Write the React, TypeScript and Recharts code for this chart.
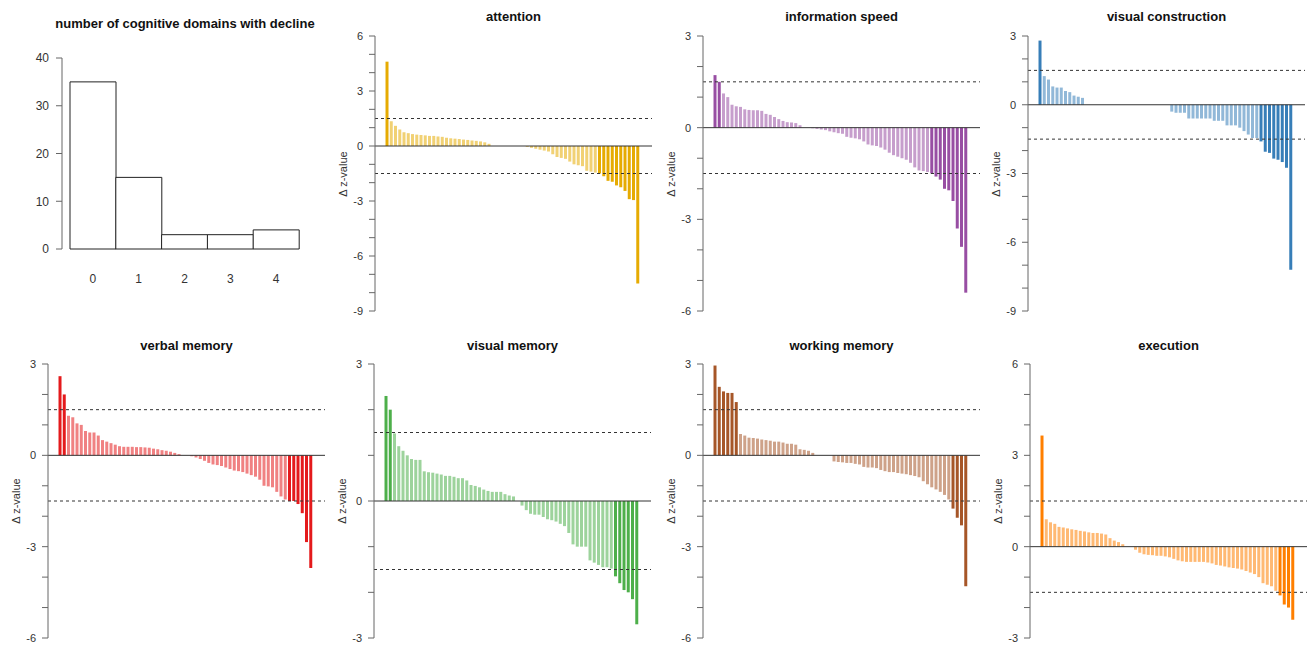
import React from "react";
import { Bar, BarChart, Cell, ReferenceLine, XAxis, YAxis } from "recharts";

// histogram: number of cognitive domains with decline
const declineCounts = ["0", "1", "2", "3", "4"];
const declinePatients = [35, 15, 3, 3, 4];

// change in z-value per patient, sorted high -> low (60 patients)
const attention = [
  4.6, 1.35, 1.1, 0.9, 0.75, 0.7, 0.65, 0.62, 0.6, 0.58, 0.55, 0.55, 0.52, 0.5, 0.45, 0.42, 0.4, 0.38, 0.35, 0.33,
  0.3, 0.28, 0.25, 0.2, 0.12, 0, 0, 0, 0, 0, 0, 0, 0, -0.05, -0.1, -0.15, -0.2, -0.25, -0.3, -0.45,
  -0.6, -0.65, -0.7, -0.85, -1.0, -1.05, -1.1, -1.35, -1.4, -1.45, -1.5, -1.65, -1.9, -1.95, -2.15, -2.25, -2.45, -2.9, -2.95, -7.5,
];
const informationSpeed = [
  1.72, 1.5, 1.12, 1.0, 0.75, 0.7, 0.68, 0.6, 0.58, 0.57, 0.57, 0.55, 0.45, 0.42, 0.35, 0.28, 0.22, 0.18, 0.17, 0.15,
  0.08, 0, 0, -0.02, -0.04, -0.06, -0.08, -0.12, -0.15, -0.18, -0.2, -0.3, -0.33, -0.35, -0.38, -0.45, -0.55, -0.58, -0.6, -0.65,
  -0.72, -0.82, -0.9, -0.95, -1.0, -1.05, -1.15, -1.3, -1.4, -1.42, -1.45, -1.5, -1.6, -1.7, -2.0, -2.05, -2.4, -3.3, -3.9, -5.4,
];
const visualConstruction = [
  2.8, 1.25, 1.1, 0.8, 0.75, 0.75, 0.6, 0.55, 0.4, 0.35, 0.3, 0, 0, 0, 0, 0, 0, 0, 0, 0,
  0, 0, 0, 0, 0, 0, 0, 0, 0, 0, 0, -0.3, -0.35, -0.35, -0.35, -0.6, -0.6, -0.6, -0.6, -0.6,
  -0.6, -0.7, -0.7, -0.7, -0.9, -0.9, -0.9, -1.0, -1.15, -1.3, -1.45, -1.45, -1.6, -2.05, -2.1, -2.35, -2.4, -2.5, -2.75, -7.2,
];
const verbalMemory = [
  2.6, 2.0, 1.3, 1.25, 1.05, 1.0, 0.8, 0.75, 0.75, 0.65, 0.5, 0.45, 0.4, 0.35, 0.3, 0.28, 0.28, 0.28, 0.27, 0.27,
  0.26, 0.25, 0.22, 0.2, 0.17, 0.15, 0.12, 0.08, 0.04, 0, 0, -0.03, -0.07, -0.12, -0.18, -0.25, -0.3, -0.32, -0.35, -0.4,
  -0.45, -0.5, -0.52, -0.55, -0.6, -0.65, -0.7, -0.8, -1.0, -1.02, -1.05, -1.2, -1.35, -1.45, -1.5, -1.5, -1.6, -1.9, -2.85, -3.7,
];
const visualMemory = [
  2.3, 2.0, 1.48, 1.2, 1.1, 1.0, 0.92, 0.9, 0.9, 0.65, 0.63, 0.62, 0.6, 0.58, 0.55, 0.55, 0.53, 0.5, 0.5, 0.45,
  0.35, 0.33, 0.3, 0.25, 0.22, 0.2, 0.2, 0.2, 0.15, 0.12, 0.1, 0, -0.1, -0.2, -0.28, -0.3, -0.3, -0.35, -0.4, -0.42,
  -0.45, -0.5, -0.55, -0.7, -0.95, -1.0, -1.0, -1.0, -1.3, -1.35, -1.4, -1.45, -1.45, -1.48, -1.65, -1.8, -1.95, -2.0, -2.15, -2.7,
];
const workingMemory = [
  2.95, 2.25, 2.1, 2.05, 2.05, 1.75, 0.7, 0.65, 0.58, 0.57, 0.55, 0.52, 0.5, 0.48, 0.45, 0.45, 0.42, 0.38, 0.38, 0.35,
  0.2, 0.18, 0.15, 0.08, 0, 0, 0, 0, -0.2, -0.22, -0.23, -0.25, -0.25, -0.28, -0.3, -0.38, -0.4, -0.4, -0.42, -0.48,
  -0.52, -0.55, -0.55, -0.58, -0.6, -0.62, -0.65, -0.68, -0.72, -0.85, -0.95, -1.05, -1.12, -1.2, -1.3, -1.45, -1.75, -2.05, -2.3, -4.3,
];
const execution = [
  3.65, 0.9, 0.8, 0.75, 0.65, 0.63, 0.6, 0.57, 0.55, 0.52, 0.5, 0.47, 0.45, 0.45, 0.43, 0.4, 0.28, 0.2, 0.15, 0.08,
  0, 0, -0.1, -0.2, -0.25, -0.27, -0.28, -0.3, -0.3, -0.32, -0.35, -0.4, -0.45, -0.48, -0.5, -0.5, -0.5, -0.5, -0.5, -0.52,
  -0.55, -0.6, -0.62, -0.65, -0.68, -0.7, -0.72, -0.75, -0.8, -0.85, -0.9, -1.0, -1.2, -1.25, -1.3, -1.45, -1.6, -1.9, -2.0, -2.4,
];

const CUTOFF = 1.5;
const FONT = '"Liberation Sans", Arial, Helvetica, sans-serif';

const PANELS = [
  { title: "attention", values: attention, color: "#E6AB02", domain: [-9, 6], axisX: 375, plotTop: 36, plotH: 275, titleY: 17 },
  { title: "information speed", values: informationSpeed, color: "#984EA3", domain: [-6, 3], axisX: 703, plotTop: 36, plotH: 275, titleY: 17 },
  { title: "visual construction", values: visualConstruction, color: "#377EB8", domain: [-9, 3], axisX: 1028, plotTop: 36, plotH: 275, titleY: 17 },
  { title: "verbal memory", values: verbalMemory, color: "#E41A1C", domain: [-6, 3], axisX: 48, plotTop: 364, plotH: 274, titleY: 346 },
  { title: "visual memory", values: visualMemory, color: "#4DAF4A", domain: [-3, 3], axisX: 374, plotTop: 364, plotH: 274, titleY: 346 },
  { title: "working memory", values: workingMemory, color: "#A65628", domain: [-6, 3], axisX: 703, plotTop: 364, plotH: 274, titleY: 346 },
  { title: "execution", values: execution, color: "#FF7F00", domain: [-3, 6], axisX: 1030, plotTop: 364, plotH: 274, titleY: 346 },
];

const PLOT_W = 277;
const AXIS_W = 50;
const PAD = 8; // room above/below the plot so edge tick labels are not clipped

function intTicks(lo: number, hi: number) {
  const out: number[] = [];
  for (let t = lo; t <= hi; t++) out.push(t);
  return out;
}

function Title({ text, cx, cy }: { text: string; cx: number; cy: number }) {
  return (
    <div
      style={{
        position: "absolute",
        left: cx - 200,
        top: cy - 9,
        width: 400,
        textAlign: "center",
        fontWeight: "bold",
        fontSize: 13,
        lineHeight: "18px",
        color: "#111",
      }}
    >
      {text}
    </div>
  );
}

function Waterfall(p: (typeof PANELS)[number]) {
  const data = p.values.map((v, i) => ({ i, v }));
  const [lo, hi] = p.domain;
  return (
    <>
      <Title text={p.title} cx={p.axisX + PLOT_W / 2} cy={p.titleY} />
      <div
        style={{
          position: "absolute",
          left: p.axisX - 32 - 40,
          top: p.plotTop + p.plotH / 2 - 8,
          width: 80,
          textAlign: "center",
          fontSize: 11,
          lineHeight: "16px",
          color: "#333",
          transform: "rotate(-90deg)",
        }}
      >
        Δ z-value
      </div>
      <div style={{ position: "absolute", left: p.axisX - AXIS_W, top: p.plotTop - PAD }}>
        <BarChart
          width={AXIS_W + PLOT_W + 2}
          height={p.plotH + 2 * PAD}
          data={data}
          margin={{ top: PAD, right: 2, bottom: PAD, left: 0 }}
          barCategoryGap="12%"
        >
          <XAxis dataKey="i" hide padding={{ left: 10, right: 12 }} />
          <YAxis
            width={AXIS_W}
            domain={[lo, hi]}
            ticks={intTicks(lo, hi)}
            interval={0}
            allowDataOverflow
            tickFormatter={(t: number) => (t % 3 === 0 ? String(t) : "")}
            tick={{ fontSize: 11, fill: "#333", fontFamily: FONT }}
            tickSize={6}
            tickMargin={6}
            axisLine={{ stroke: "#666" }}
            tickLine={{ stroke: "#666" }}
          />
          <Bar dataKey="v" isAnimationActive={false}>
            {data.map((d) => (
              <Cell
                key={d.i}
                fill={p.color}
                fillOpacity={Math.abs(d.v) >= CUTOFF ? 1 : 0.55}
              />
            ))}
          </Bar>
          <ReferenceLine y={0} stroke="#333" strokeWidth={1} />
          <ReferenceLine y={CUTOFF} stroke="#333" strokeDasharray="3 3" />
          <ReferenceLine y={-CUTOFF} stroke="#333" strokeDasharray="3 3" />
        </BarChart>
      </div>
    </>
  );
}

function Histogram() {
  const data = declineCounts.map((k, i) => ({ k, n: declinePatients[i] }));
  const axisX = 62;
  const plotTop = 58;
  const plotH = 191;
  const plotW = 237;
  return (
    <>
      <Title text="number of cognitive domains with decline" cx={185} cy={24} />
      <div style={{ position: "absolute", left: axisX - AXIS_W, top: plotTop - PAD }}>
        <BarChart
          width={AXIS_W + plotW + 2}
          height={plotH + PAD + 40}
          data={data}
          margin={{ top: PAD, right: 2, bottom: 0, left: 0 }}
          barCategoryGap={0}
        >
          <XAxis
            dataKey="k"
            height={40}
            padding={{ left: 8, right: 0 }}
            axisLine={false}
            tickLine={false}
            tickSize={6}
            tickMargin={19}
            tick={{ fontSize: 12, fill: "#333", fontFamily: FONT }}
          />
          <YAxis
            width={AXIS_W}
            domain={[0, 40]}
            ticks={[0, 10, 20, 30, 40]}
            interval={0}
            tick={{ fontSize: 12, fill: "#333", fontFamily: FONT }}
            tickSize={6}
            tickMargin={7}
            axisLine={{ stroke: "#666" }}
            tickLine={{ stroke: "#666" }}
          />
          <Bar dataKey="n" fill="#fff" stroke="#222" strokeWidth={1} isAnimationActive={false} />
        </BarChart>
      </div>
    </>
  );
}

export default function App() {
  return (
    <div
      style={{
        position: "absolute",
        left: 0,
        top: 0,
        width: 1307,
        height: 646,
        background: "#fff",
        overflow: "hidden",
        fontFamily: FONT,
      }}
    >
      <Histogram />
      {PANELS.map((p) => (
        <Waterfall key={p.title} {...p} />
      ))}
    </div>
  );
}
